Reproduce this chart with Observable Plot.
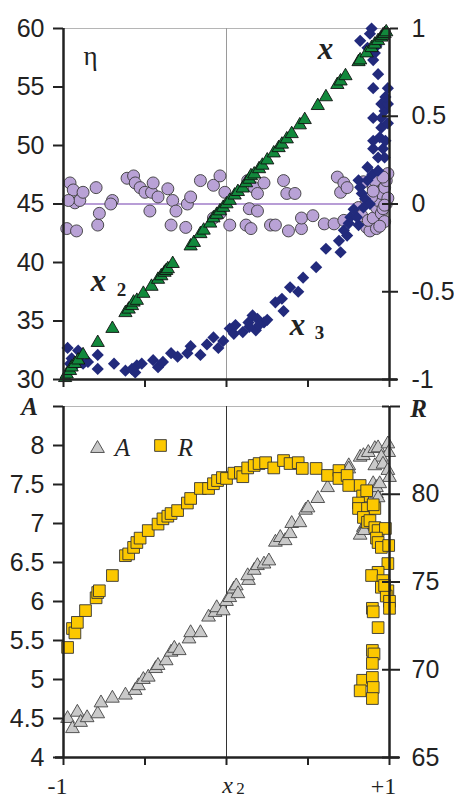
<!DOCTYPE html>
<html><head><meta charset="utf-8">
<script src="https://cdn.jsdelivr.net/npm/d3@7"></script>
<script src="https://cdn.jsdelivr.net/npm/@observablehq/plot@0.6"></script>
<style>
html,body{margin:0;padding:0;background:#fff;}
#chart{width:454px;}
#chart svg{display:block;}
</style></head><body><div id="chart"></div>
<script>
// ---------- data (x position t in [-1, 1]) ----------
const xTicks = [-1, -0.5, 0, 0.5, 1];
const etaTicks = [30, 35, 40, 45, 50, 55, 60];
const vTicks = [-1, -0.5, 0, 0.5, 1];
const aTicks = [4, 4.5, 5, 5.5, 6, 6.5, 7, 7.5, 8, 8.5];
const rTicks = [65, 70, 75, 80, 85];
const endLabels = ["-1", "+1"];
const endLabelPos = [-1, 1];

// eta (left axis), purple circles
const etaPoints = [
[-0.98,42.9],[-0.96,46.8],[-0.94,46.2],[-0.92,42.7],[-0.93,45.1],[-0.9,45.3],[-0.97,45.3],[-0.88,46.0],[-0.8,46.4],[-0.79,43.2],
[-0.78,44.2],[-0.7,45.3],[-0.71,45.0],[-0.61,47.2],[-0.57,47.4],[-0.56,46.8],[-0.53,46.4],[-0.5,46.0],[-0.47,44.4],[-0.46,46.0],
[-0.45,46.8],[-0.42,45.6],[-0.36,46.3],[-0.34,43.2],[-0.33,45.3],[-0.31,44.4],[-0.25,43.0],[-0.24,45.0],[-0.22,45.6],[-0.16,47.0],
[-0.08,46.6],[-0.08,43.8],[-0.04,47.4],[-0.04,44.2],[-0.01,46.0],[0.02,43.2],[0.12,43.2],[0.13,47.0],[0.14,44.6],[0.15,42.9],
[0.17,46.4],[0.19,45.9],[0.19,44.4],[0.23,46.8],[0.27,43.2],[0.3,43.2],[0.35,47.0],[0.37,45.9],[0.38,42.7],[0.42,45.9],
[0.46,42.9],[0.46,43.8],[0.53,44.0],[0.6,43.3],[0.66,43.3],[0.68,47.3],[0.7,46.0],[0.72,46.8],[0.72,43.6],[0.74,46.4],
[0.81,44.7],[0.83,44.0],[0.84,46.9],[0.86,43.0],[0.86,45.3],[0.88,42.7],[0.87,43.6],[0.9,43.8],[0.9,46.4],[0.91,47.0],
[0.92,44.7],[0.93,45.3],[0.94,46.0],[0.95,45.9],[0.95,44.2],[0.96,44.6],[0.97,46.4],[0.97,43.5],[0.98,47.0],[0.99,47.6],
[0.98,45.0],[0.99,45.5],[0.96,47.3],[0.89,45.6],[0.92,42.9],[0.94,43.1],[0.97,44.9],[0.9,46.1]
];

// x (right axis), green triangles
const xPoints = [
[-0.99,-0.99],[-0.98,-0.97],[-0.96,-0.95],[-0.95,-0.93],[-0.93,-0.91],[-0.91,-0.89],[-0.88,-0.86],[-0.79,-0.79],[-0.70,-0.71],[-0.62,-0.62],
[-0.6,-0.6],[-0.58,-0.58],[-0.57,-0.56],[-0.55,-0.55],[-0.51,-0.51],[-0.46,-0.47],[-0.42,-0.43],[-0.4,-0.41],[-0.38,-0.39],[-0.37,-0.38],
[-0.36,-0.37],[-0.33,-0.34],[-0.22,-0.24],[-0.2,-0.22],[-0.16,-0.17],[-0.14,-0.15],[-0.1,-0.11],[-0.08,-0.08],[-0.06,-0.06],[-0.04,-0.04],
[-0.02,-0.02],[0.0,0.0],[0.02,0.02],[0.05,0.05],[0.07,0.07],[0.1,0.09],[0.12,0.12],[0.14,0.14],[0.15,0.16],[0.17,0.17],
[0.2,0.2],[0.22,0.22],[0.25,0.25],[0.29,0.29],[0.32,0.32],[0.34,0.34],[0.37,0.37],[0.4,0.4],[0.45,0.45],[0.48,0.48],
[0.56,0.56],[0.61,0.61],[0.68,0.68],[0.7,0.7],[0.73,0.73],[0.81,0.81],[0.82,0.82],[0.86,0.86],[0.89,0.89],[0.91,0.91],
[0.93,0.93],[0.95,0.95],[0.96,0.96],[0.97,0.97],[0.98,0.98]
];

// x3 (right axis), navy diamonds
const x3Points = [
[-0.975,-0.82],[-0.91,-0.835],[-0.96,-0.91],[-0.93,-0.92],[-0.95,-0.88],[-0.88,-0.91],[-0.85,-0.9],[-0.79,-0.86],[-0.79,-0.94],[-0.94,-0.9],
[-0.69,-0.91],[-0.62,-0.95],[-0.56,-0.96],[-0.55,-0.92],[-0.52,-0.91],[-0.58,-0.94],[-0.45,-0.89],[-0.42,-0.93],[-0.39,-0.9],[-0.34,-0.85],
[-0.3,-0.87],[-0.24,-0.85],[-0.22,-0.81],[-0.16,-0.86],[-0.12,-0.8],[-0.08,-0.76],[-0.05,-0.82],[-0.02,-0.78],[0.02,-0.71],[0.045,-0.74],
[0.055,-0.69],[0.1,-0.73],[0.135,-0.675],[0.16,-0.635],[0.18,-0.72],[0.19,-0.655],[0.23,-0.675],[0.25,-0.66],[0.14,-0.7],[0.2,-0.69],
[0.3,-0.56],[0.34,-0.54],[0.35,-0.61],[0.39,-0.475],[0.44,-0.5],[0.47,-0.42],[0.55,-0.36],[0.61,-0.255],[0.69,-0.21],[0.7,-0.275],
[0.74,-0.18],[0.75,-0.11],[0.76,-0.075],[0.81,-0.12],[0.8,-0.075],[0.83,0.06],[0.82,0.095],[0.81,0.135],[0.865,0.135],[0.865,0.21],
[0.895,0.17],[0.93,0.19],[0.93,0.265],[0.96,0.315],[0.9,0.315],[0.9,0.36],[0.94,0.38],[0.97,0.265],[0.975,0.36],[0.95,0.435],
[0.99,0.46],[0.9,0.49],[0.95,0.49],[0.97,0.53],[0.95,0.57],[0.99,0.57],[0.975,0.61],[0.99,0.66],[0.9,0.66],[0.93,0.74],
[0.865,0.89],[0.82,0.93],[0.88,0.97],[0.89,1.0],[0.91,0.86],[0.9,0.82],[0.92,0.9],[0.85,0.03],[0.88,0.0],[0.78,-0.03],
[0.72,-0.15],[0.84,-0.02]
];

// A (left axis), gray triangles
const aPoints = [
[-0.975,4.5],[-0.945,4.37],[-0.915,4.58],[-0.895,4.45],[-0.855,4.51],[-0.79,4.56],[-0.77,4.7],[-0.7,4.76],[-0.62,4.8],[-0.56,4.86],
[-0.54,4.92],[-0.51,5.0],[-0.48,5.03],[-0.435,5.14],[-0.42,5.18],[-0.37,5.24],[-0.34,5.35],[-0.32,5.4],[-0.29,5.37],[-0.23,5.52],
[-0.22,5.6],[-0.16,5.6],[-0.11,5.8],[-0.07,5.86],[-0.06,5.92],[-0.02,5.88],[0.0,6.0],[0.02,6.05],[0.045,6.16],[0.06,6.2],
[0.07,6.1],[0.135,6.27],[0.13,6.33],[0.17,6.4],[0.19,6.46],[0.23,6.48],[0.26,6.52],[0.3,6.76],[0.33,6.82],[0.36,6.78],
[0.39,6.87],[0.4,7.0],[0.45,7.01],[0.485,7.17],[0.5,7.2],[0.56,7.32],[0.62,7.46],[0.75,7.74],[0.75,7.7],[0.82,7.85],
[0.84,7.87],[0.87,7.91],[0.91,7.96],[0.93,7.97],[0.99,8.02],[0.995,7.91],[0.95,7.85],[0.91,7.74],[0.96,7.76],[0.99,7.68],
[1.0,7.59],[0.9,7.51],[0.92,7.38],[0.92,7.46],[0.84,6.95],[0.82,6.85],[0.845,6.91],[0.86,7.0],[0.94,7.51],[0.93,7.33]
];

// R (right axis), yellow squares
const rPoints = [
[-0.975,71.27],[-0.945,72.35],[-0.93,72.1],[-0.915,72.7],[-0.865,73.37],[-0.8,74.1],[-0.79,74.4],[-0.78,74.5],[-0.7,75.37],[-0.62,76.5],
[-0.6,76.6],[-0.57,76.97],[-0.55,77.25],[-0.53,77.5],[-0.48,77.93],[-0.42,78.3],[-0.39,78.6],[-0.36,78.75],[-0.34,78.9],[-0.3,79.07],
[-0.24,79.5],[-0.22,79.76],[-0.16,80.33],[-0.11,80.33],[-0.08,80.6],[-0.055,80.78],[-0.025,80.95],[0.0,80.9],[0.045,81.2],[0.085,81.24],
[0.1,81.0],[0.13,81.5],[0.17,81.64],[0.2,81.75],[0.24,81.8],[0.29,81.5],[0.35,81.92],[0.39,81.75],[0.44,81.8],[0.465,81.47],
[0.55,81.47],[0.62,81.07],[0.69,81.35],[0.69,80.9],[0.74,81.07],[0.75,80.5],[0.82,80.5],[0.835,79.9],[0.81,79.5],[0.81,79.19],
[0.865,79.19],[0.91,79.19],[0.84,78.68],[0.865,78.4],[0.88,78.5],[0.91,78.1],[0.93,77.93],[0.975,78.05],[0.92,77.5],[0.93,77.25],
[0.95,76.97],[0.995,77.08],[0.99,76.05],[0.93,75.55],[0.89,75.37],[0.96,75.08],[0.95,74.7],[0.99,74.5],[0.895,73.5],[0.9,73.3],
[0.93,72.4],[0.895,71.1],[0.905,70.9],[0.895,70.36],[0.835,69.4],[0.82,68.8],[0.895,69.56],[0.9,68.99],[0.895,68.36],[0.98,74.2],
[1.0,73.9],[1.0,73.5],[0.97,74.8],[0.9,79.4],[0.86,80.2]
];

// ---------- styling ----------
const tickFont = "'Liberation Sans Narrow','Arial Narrow','Liberation Sans',Arial,sans-serif";
const serif = "'Liberation Serif','Times New Roman',serif";
const ink = "#222";
const fs = 25;
const C = {textAnchor: "middle", lineAnchor: "middle", fill: ink, fontFamily: serif};

// secondary scales mapped onto the primary (left) scales
const vToEta = d3.scaleLinear([-1, 1], [30, 60]);
const rToA = d3.scaleLinear([65, 85], [4, 8.5]);
const fmt = d => String(d);

const topPlot = Plot.plot({
  width: 454, height: 395,
  marginTop: 28, marginBottom: 16, marginLeft: 63, marginRight: 65,
  x: {domain: [-1, 1]},
  y: {domain: [30, 60]},
  style: {color: ink, background: "white", overflow: "visible"},
  marks: [
    Plot.ruleY([60], {stroke: "#b5b5b5", strokeWidth: 1}),
    Plot.ruleX([0], {stroke: "#9a9a9a", strokeWidth: 1}),
    Plot.ruleY([45], {stroke: "#a07cc8", strokeWidth: 1.5}),
    Plot.dot(etaPoints, {x: d => d[0], y: d => d[1], r: 6, fill: "#b9a2d6", stroke: "#3a3a3a", strokeWidth: 0.9}),
    Plot.dot(x3Points, {x: d => d[0], y: d => vToEta(d[1]), symbol: "diamond2", r: 5.5, fill: "#222a7c"}),
    Plot.dot(xPoints, {x: d => d[0], y: d => vToEta(d[1]), symbol: "triangle", r: 4.9, fill: "#12893c", stroke: "#111", strokeWidth: 0.9}),
    Plot.ruleX([-1], {stroke: ink, strokeWidth: 2.5}),
    Plot.ruleX([1], {stroke: ink, strokeWidth: 2.5}),
    Plot.ruleY([30], {stroke: ink, strokeWidth: 2.5, insetRight: -8}),
    Plot.axisY(etaTicks, {anchor: "left", label: null, tickSize: 10, tickPadding: 9, strokeWidth: 2, tickFormat: fmt, fontSize: fs, fontFamily: tickFont}),
    Plot.axisY(vTicks.map(vToEta), {anchor: "right", label: null, tickSize: 8, tickPadding: 14, strokeWidth: 2, tickFormat: d => fmt(vToEta.invert(d)), fontSize: fs, fontFamily: tickFont}),
    Plot.tickY(vTicks.map(vToEta), {y: d => d, insetLeft: 319, stroke: ink, strokeWidth: 2}),
    Plot.axisX(xTicks, {anchor: "bottom", label: null, tickSize: 8, strokeWidth: 2, tickFormat: () => ""}),
    Plot.text(["η"], {...C, frameAnchor: "top-left", dx: 27, dy: 28, fontSize: 27}),
    Plot.text(["x"], {...C, frameAnchor: "top-left", dx: 262, dy: 21, fontSize: 31, fontStyle: "italic", fontWeight: "bold"}),
    Plot.text(["x"], {...C, frameAnchor: "top-left", dx: 35, dy: 253, fontSize: 31, fontStyle: "italic", fontWeight: "bold"}),
    Plot.text(["2"], {...C, frameAnchor: "top-left", dx: 58, dy: 261, fontSize: 19, fontWeight: "bold"}),
    Plot.text(["x"], {...C, frameAnchor: "top-left", dx: 234, dy: 297, fontSize: 31, fontStyle: "italic", fontWeight: "bold"}),
    Plot.text(["3"], {...C, frameAnchor: "top-left", dx: 256, dy: 304, fontSize: 19, fontWeight: "bold"})
  ]
});

const bottomPlot = Plot.plot({
  width: 454, height: 405,
  marginTop: 11, marginBottom: 43, marginLeft: 63, marginRight: 65,
  x: {domain: [-1, 1]},
  y: {domain: [4, 8.5]},
  style: {color: ink, background: "white", overflow: "visible"},
  marks: [
    Plot.ruleY([8.5], {stroke: "#b5b5b5", strokeWidth: 1}),
    Plot.ruleX([0], {stroke: "#333", strokeWidth: 1}),
    Plot.dot(aPoints, {x: d => d[0], y: d => d[1], symbol: "triangle", r: 5.1, fill: "#c9c9c9", stroke: "#444", strokeWidth: 0.9}),
    Plot.dot(rPoints, {x: d => d[0], y: d => rToA(d[1]), symbol: "square", r: 6.6, fill: "#fcc800", stroke: "#333", strokeWidth: 0.9}),
    Plot.ruleX([-1], {stroke: ink, strokeWidth: 2.5}),
    Plot.ruleX([1], {stroke: ink, strokeWidth: 2.5}),
    Plot.ruleY([4], {stroke: ink, strokeWidth: 2.5, insetLeft: -8, insetRight: -10}),
    Plot.axisY(aTicks, {anchor: "left", label: null, tickSize: 10, tickPadding: 9, strokeWidth: 2, tickFormat: d => d === 8.5 ? "" : fmt(d), fontSize: fs, fontFamily: tickFont}),
    Plot.axisY(rTicks.map(rToA), {anchor: "right", label: null, tickSize: 10, tickPadding: 12, strokeWidth: 2, tickFormat: d => { const v = Math.round(rToA.invert(d)); return v === 85 ? "" : fmt(v); }, fontSize: fs, fontFamily: tickFont}),
    Plot.tickY(rTicks.map(rToA), {y: d => d, insetLeft: 319, stroke: ink, strokeWidth: 2}),
    Plot.axisX(xTicks, {anchor: "bottom", label: null, tickSize: 8, strokeWidth: 2, tickFormat: () => ""}),
    Plot.text(endLabels, {...C, x: (d, i) => endLabelPos[i], y: () => 4, dy: 29, dx: -6, fontSize: 24}),
    Plot.text(["x"], {...C, x: () => 0, y: () => 4, dy: 28, dx: 1, fontSize: 24, fontStyle: "italic"}),
    Plot.text(["2"], {...C, x: () => 0, y: () => 4, dy: 31, dx: 14, fontSize: 17}),
    Plot.text(["A"], {...C, frameAnchor: "top-left", dx: -34, dy: 0, fontSize: 25, fontStyle: "italic", fontWeight: "bold"}),
    Plot.text(["R"], {...C, frameAnchor: "top-right", dx: 29, dy: 2, fontSize: 25, fontStyle: "italic", fontWeight: "bold"}),
    Plot.dot([0], {frameAnchor: "top-left", dx: 34, dy: 42, symbol: "triangle", r: 5.1, fill: "#c9c9c9", stroke: "#444", strokeWidth: 0.9}),
    Plot.text(["A"], {...C, frameAnchor: "top-left", dx: 59, dy: 41, fontSize: 25, fontStyle: "italic"}),
    Plot.dot([0], {frameAnchor: "top-left", dx: 97, dy: 39, symbol: "square", r: 6.6, fill: "#fcc800", stroke: "#333", strokeWidth: 0.9}),
    Plot.text(["R"], {...C, frameAnchor: "top-left", dx: 122, dy: 41, fontSize: 25, fontStyle: "italic"})
  ]
});

const chart = document.getElementById("chart");
chart.appendChild(topPlot);
chart.appendChild(bottomPlot);
</script>
</body></html>
